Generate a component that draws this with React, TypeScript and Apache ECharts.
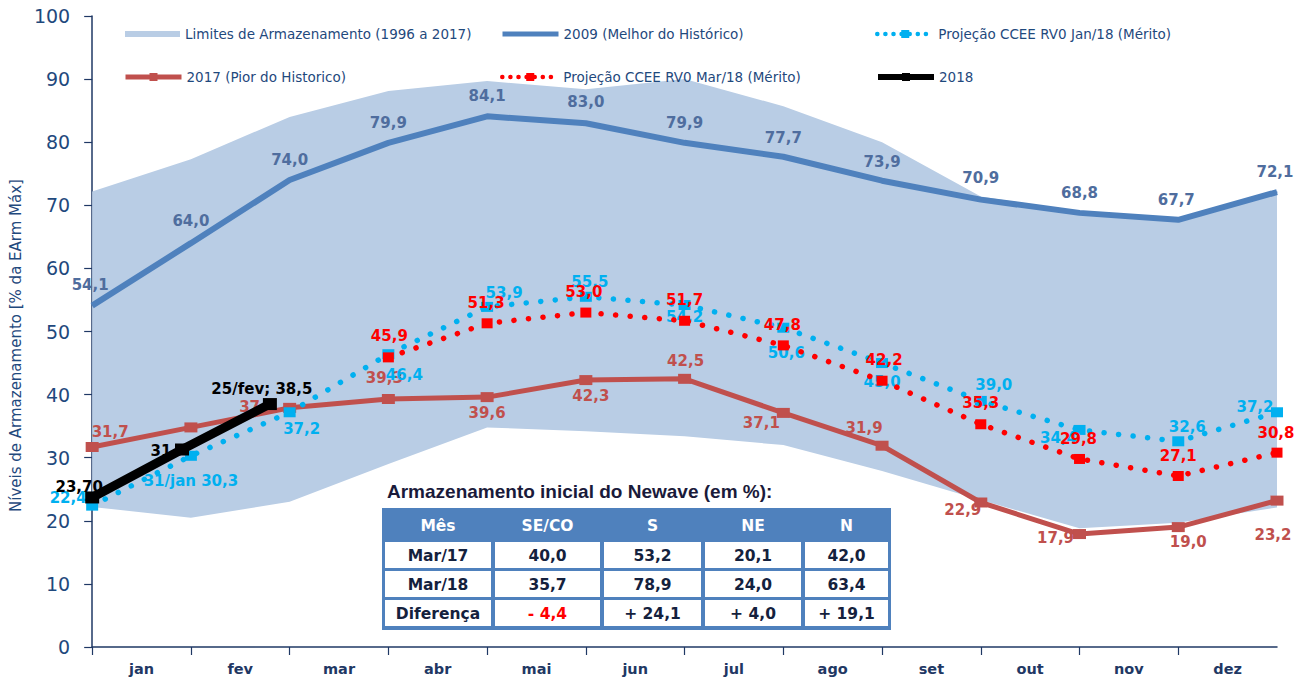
import React, { useEffect, useRef } from 'react';
import * as echarts from 'echarts';

const months = ['jan', 'fev', 'mar', 'abr', 'mai', 'jun', 'jul', 'ago', 'set', 'out', 'nov', 'dez'];
const limitsUpper = [72.2, 77.3, 84.0, 88.1, 89.7, 88.4, 90.0, 85.7, 80.0, 71.4, 69.0, 67.9, 72.2];
const limitsLower = [22.2, 20.5, 23.0, 29.0, 34.8, 34.2, 33.4, 32.0, 27.9, 23.3, 18.8, 19.7, 22.1];
const best2009 = [54.1, 64.0, 74.0, 79.9, 84.1, 83.0, 79.9, 77.7, 73.9, 70.9, 68.8, 67.7, 72.1];
const worst2017 = [31.7, 34.8, 37.9, 39.3, 39.6, 42.3, 42.5, 37.1, 31.9, 22.9, 17.9, 19.0, 23.2];
const worst2017Labels = ['31,7', '', '37,9', '39,3', '39,6', '42,3', '42,5', '37,1', '31,9', '22,9', '17,9', '19,0', '23,2'];
const projJan18 = [22.4, 30.3, 37.2, 46.4, 53.9, 55.5, 54.2, 50.6, 45.0, 39.0, 34.4, 32.6, 37.2];
const projJan18Labels = ['22,4', '31/jan 30,3', '37,2', '46,4', '53,9', '55,5', '54,2', '50,6', '45,0', '39,0', '34,4', '32,6', '37,2'];
const projMar18: (number | null)[] = [null, null, null, 45.9, 51.3, 53.0, 51.7, 47.8, 42.2, 35.3, 29.8, 27.1, 30.8];
const obs2018X = [0, 0.91, 1.8];
const obs2018Y = [23.7, 31.3, 38.5];
const obs2018Labels = ['23,70', '31', '25/fev; 38,5'];

const tableHeader = ['Mês', 'SE/CO', 'S', 'NE', 'N'];
const tableRows = [
  ['Mar/17', '40,0', '53,2', '20,1', '42,0'],
  ['Mar/18', '35,7', '78,9', '24,0', '63,4'],
  ['Diferença', '- 4,4', '+ 24,1', '+ 4,0', '+ 19,1'],
];

// label placement (pixel offsets of label centre from the point)
const off2009 = [[-2, -21], [0, -22], [0, -20], [0, -20], [0, -20], [0, -21], [0, -20], [0, -19], [0, -19], [0, -22], [0, -20], [-2, -20], [-2, -20]];
const off2017 = [[18, -15], [0, 0], [-32, -1], [-4, -21], [0, 16], [5, 16], [1, -18], [-22, 10], [-18, -18], [-18, 7], [-24, 4], [10, 15], [-4, 34]];
const offJan = [[-24, -8], [0, 25], [12, 17], [16, 21], [17, -14], [4, -15], [0, 12], [3, 25], [0, 19], [13, -16], [-21, 8], [9, -14], [-22, -5]];
const offMar = [[0, 0], [0, 0], [0, 0], [1, -21], [-1, -20], [-2, -21], [0, -21], [-1, -20], [2, -21], [0, -21], [-1, -20], [0, -20], [-1, -20]];
const off2018 = [[-13, -10], [-21, 2], [-8, -15]];

const fmt = (v: number) => v.toFixed(1).replace('.', ',');

const LABEL_FONT = 'DejaVu Sans';

function makeLabel(text: string, off: number[], color: string) {
  return {
    show: text !== '',
    position: 'inside',
    offset: off,
    formatter: text,
    color,
    fontFamily: LABEL_FONT,
    fontWeight: 'bold',
    fontSize: 15,
  };
}

export default function App() {
  const ref = useRef<HTMLDivElement>(null);

  useEffect(() => {
    if (!ref.current) return;
    const chart = echarts.init(ref.current, null, { renderer: 'svg' });

    const navy = '#1F3864';
    const legendText = { color: '#1F497D', fontFamily: 'DejaVu Sans', fontSize: 13.5 };

    const names = {
      band: 'Limites de Armazenamento (1996 a 2017)',
      b2009: '2009 (Melhor do Histórico)',
      jan18: 'Projeção CCEE RV0 Jan/18 (Mérito)',
      w2017: '2017 (Pior do Historico)',
      mar18: 'Projeção CCEE RV0 Mar/18 (Mérito)',
      o2018: '2018',
    };

    const legendAt = (name: string, left: number, top: number, extra: any = {}) => ({
      show: true,
      left,
      top,
      data: [name],
      itemWidth: 56,
      itemHeight: 10,
      itemGap: 0,
      selectedMode: false,
      textStyle: legendText,
      ...extra,
    });

    // table graphic
    const tX = 382, tY = 508;
    const colW = [106, 105, 97, 96, 83];
    const gap = 4;
    const headerH = 34;
    const rowH = 26;
    const rowGap = 3;
    const tableW = 3 + colW.reduce((a, b) => a + b, 0) + gap * (colW.length - 1) + 3;
    const tableH = headerH + tableRows.length * (rowH + rowGap) + 1;
    const graphics: any[] = [];
    graphics.push({
      type: 'text', left: 387, top: 482,
      style: { text: 'Armazenamento inicial do Newave (em %):', fontSize: 19, fontWeight: 'bold', fontFamily: 'Liberation Sans', fill: '#1A1A3A' },
    });
    graphics.push({ type: 'rect', shape: { x: tX, y: tY, width: tableW, height: tableH }, style: { fill: '#4F81BD' } });
    let cx = tX + 3;
    const colX: number[] = [];
    colW.forEach((w) => { colX.push(cx); cx += w + gap; });
    tableHeader.forEach((h, c) => {
      graphics.push({
        type: 'text', x: colX[c] + colW[c] / 2, y: tY + headerH / 2 + 1,
        style: { text: h, align: 'center', verticalAlign: 'middle', fill: '#FFFFFF', fontFamily: 'DejaVu Sans', fontWeight: 'bold', fontSize: 15.5 },
      });
    });
    tableRows.forEach((row, r) => {
      const ry = tY + headerH + r * (rowH + rowGap);
      row.forEach((cell, c) => {
        graphics.push({ type: 'rect', shape: { x: colX[c], y: ry, width: colW[c], height: rowH }, style: { fill: '#FFFFFF' } });
        graphics.push({
          type: 'text', x: colX[c] + colW[c] / 2, y: ry + rowH / 2 + 1,
          style: {
            text: cell, align: 'center', verticalAlign: 'middle',
            fill: cell.startsWith('-') ? '#FF0000' : '#14213D',
            fontFamily: 'DejaVu Sans', fontWeight: 'bold', fontSize: 15.5,
          },
        });
      });
    });

    const dotLegend = { lineStyle: { type: [0.1, 8], width: 4.5, cap: 'round' } };

    const option: any = {
      animation: false,
      backgroundColor: '#FFFFFF',
      textStyle: { fontFamily: 'DejaVu Sans' },
      grid: { left: 90, right: 24, top: 16, bottom: 33, containLabel: false },
      legend: [
        legendAt(names.band, 120, 22, { data: [{ name: names.band, icon: 'rect' }], itemWidth: 55, itemHeight: 6 }),
        legendAt(names.b2009, 495, 22, { data: [{ name: names.b2009, itemStyle: { opacity: 0 } }], lineStyle: { width: 5 } }),
        legendAt(names.jan18, 870, 22, dotLegend),
        legendAt(names.w2017, 118, 65, { lineStyle: { width: 5 } }),
        legendAt(names.mar18, 495, 65, dotLegend),
        legendAt(names.o2018, 870, 65, { lineStyle: { width: 6 } }),
      ],
      xAxis: [
        { type: 'value', min: 0, max: 12, interval: 1, show: false, position: 'bottom' },
        {
          type: 'category', data: months, boundaryGap: true, position: 'bottom',
          axisLine: { show: true, lineStyle: { color: navy, width: 1.5 } },
          axisTick: { show: true, interval: 0, length: 8, lineStyle: { color: navy, width: 1.2 } },
          axisLabel: { interval: 0, color: navy, fontFamily: 'DejaVu Sans', fontWeight: 'bold', fontSize: 14.5, margin: 14 },
          splitLine: { show: false },
        },
      ],
      yAxis: {
        type: 'value', min: 0, max: 100, interval: 10,
        name: 'Níveis de Armazenamento [% da EArm Máx]',
        nameLocation: 'middle', nameGap: 62,
        nameTextStyle: { color: '#1F497D', fontFamily: 'DejaVu Sans', fontSize: 15, padding: [0, 28, 0, 0] },
        axisLine: { show: true, lineStyle: { color: navy, width: 1.5 } },
        axisTick: { show: true, length: 8, lineStyle: { color: navy, width: 1.2 } },
        axisLabel: { color: '#1F497D', fontFamily: 'DejaVu Sans', fontSize: 19, margin: 22 },
        splitLine: { show: false },
      },
      graphic: graphics,
      series: [
        {
          type: 'custom', name: names.band, xAxisIndex: 0, yAxisIndex: 0, z: 1, silent: true,
          itemStyle: { color: '#B9CDE5' },
          data: limitsUpper.map((v, i) => [i, v]),
          renderItem: (params: any, api: any) => {
            if (params.dataIndex !== 0) return null;
            const top = limitsUpper.map((v, i) => api.coord([i, v]));
            const bottom = limitsLower.map((v, i) => api.coord([i, v])).reverse();
            return { type: 'polygon', shape: { points: top.concat(bottom) }, style: { fill: '#B9CDE5' } };
          },
        },
        {
          type: 'line', name: names.b2009, xAxisIndex: 0, z: 2,
          symbol: 'circle', symbolSize: 1,
          itemStyle: { color: '#4F81BD' },
          lineStyle: { color: '#4F81BD', width: 6 },
          data: best2009.map((v, i) => ({ value: [i, v], label: makeLabel(fmt(v), off2009[i], '#4F6D9E') })),
        },
        {
          type: 'line', name: names.w2017, xAxisIndex: 0, z: 3,
          symbol: 'rect', symbolSize: [13, 10],
          itemStyle: { color: '#C0504D' },
          lineStyle: { color: '#C0504D', width: 5 },
          data: worst2017.map((v, i) => ({ value: [i, v], label: makeLabel(worst2017Labels[i], off2017[i], '#C0504D') })),
        },
        {
          type: 'line', name: names.jan18, xAxisIndex: 0, z: 4,
          symbol: 'rect', symbolSize: [12, 10],
          itemStyle: { color: '#00B0F0' },
          lineStyle: { color: '#00B0F0', width: 5.5, type: [0.1, 14.5], cap: 'round' },
          data: projJan18.map((v, i) => ({ value: [i, v], label: makeLabel(projJan18Labels[i], offJan[i], '#00B0F0') })),
        },
        {
          type: 'line', name: names.mar18, xAxisIndex: 0, z: 5,
          symbol: 'rect', symbolSize: [11, 10],
          itemStyle: { color: '#FF0000' },
          lineStyle: { color: '#FF0000', width: 5.5, type: [0.1, 14.5], cap: 'round' },
          data: projMar18
            .map((v, i) => (v == null ? null : { value: [i, v], label: makeLabel(fmt(v), offMar[i], '#FF0000') }))
            .filter((d) => d !== null),
        },
        {
          type: 'line', name: names.o2018, xAxisIndex: 0, z: 6,
          symbol: 'rect', symbolSize: [14, 12],
          itemStyle: { color: '#000000' },
          lineStyle: { color: '#000000', width: 9 },
          data: obs2018Y.map((v, i) => ({ value: [obs2018X[i], v], label: makeLabel(obs2018Labels[i], off2018[i], '#000000') })),
        },
      ],
    };

    chart.setOption(option);
    return () => chart.dispose();
  }, []);

  return <div ref={ref} style={{ position: 'fixed', left: 0, top: 0, width: 1301, height: 680, background: '#fff' }} />;
}
